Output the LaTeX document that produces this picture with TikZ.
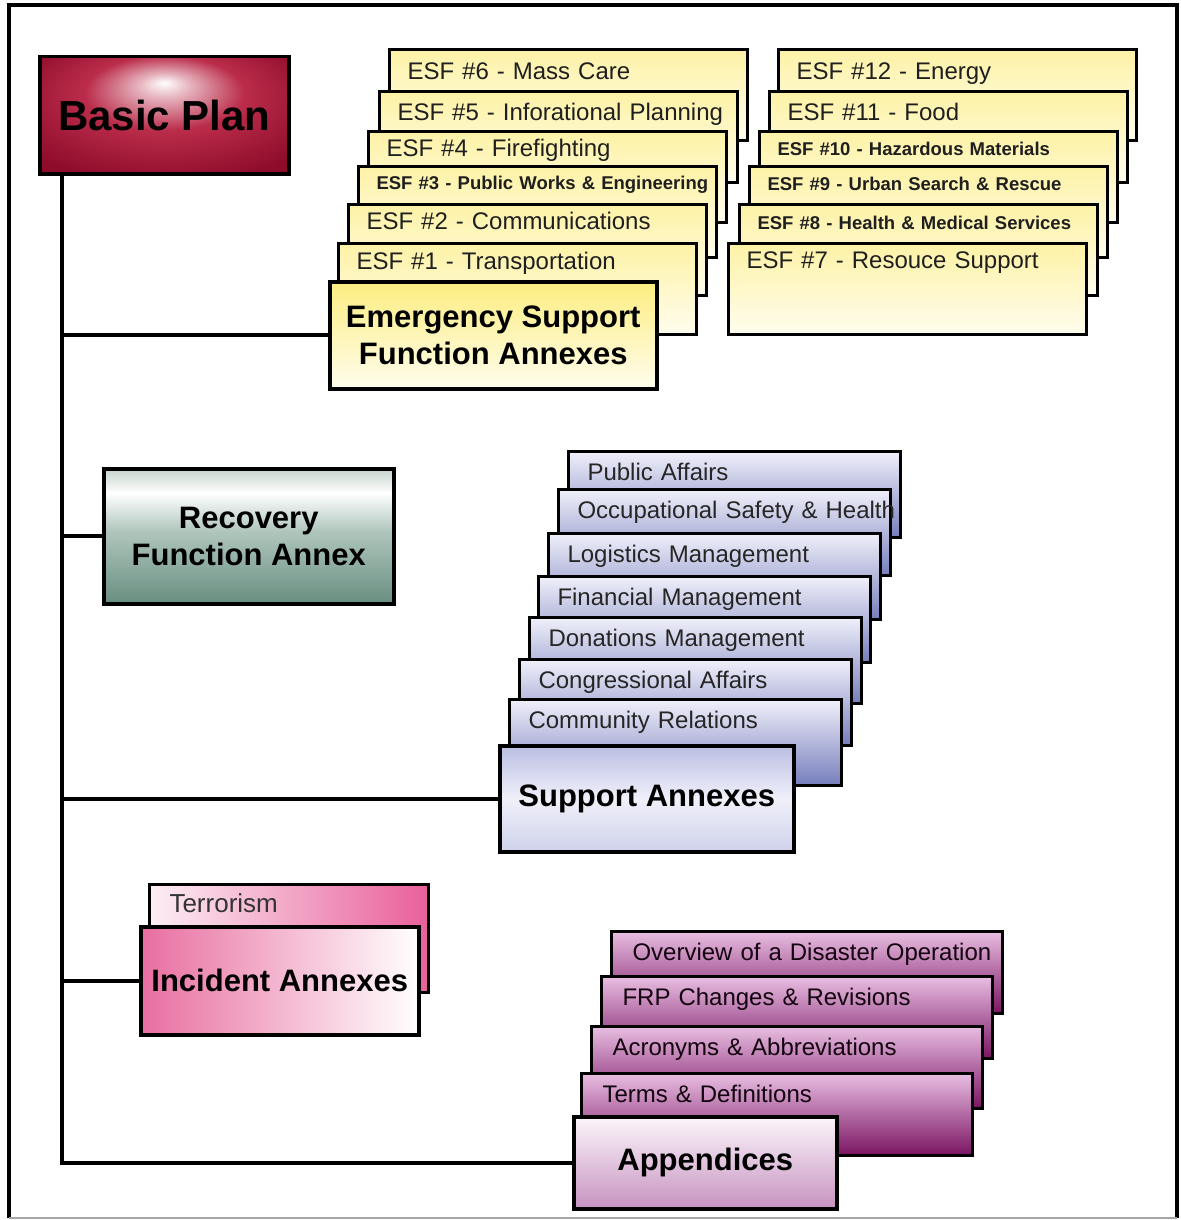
\documentclass[tikz,border=0pt]{standalone}
\usepackage{fontspec}
\setmainfont{Liberation Sans}

\definecolor{basicmid}{RGB}{186,44,74}
\definecolor{basicdark}{RGB}{142,12,42}
\definecolor{esftop}{RGB}{253,242,166}
\definecolor{esfbot}{RGB}{255,253,238}
\definecolor{esffront}{RGB}{252,237,128}
\definecolor{reclight}{RGB}{198,212,204}
\definecolor{recmid}{RGB}{176,198,189}
\definecolor{recdark}{RGB}{104,142,128}
\definecolor{suptop}{RGB}{240,240,250}
\definecolor{supbot}{RGB}{118,126,188}
\definecolor{supfront}{RGB}{186,190,226}
\definecolor{apptop}{RGB}{232,190,226}
\definecolor{appbot}{RGB}{122,20,98}
\definecolor{appfront}{RGB}{198,146,192}
\definecolor{pinklight}{RGB}{252,238,245}
\definecolor{pinkdeep}{RGB}{233,96,154}
\definecolor{incdeep}{RGB}{232,110,160}

\pgfdeclareradialshading{basicglow}{\pgfpoint{0bp}{14bp}}{color(0bp)=(white); color(5bp)=(basicmid!35!white); color(16bp)=(basicmid); color(34bp)=(basicdark); color(50bp)=(basicdark)}
\pgfdeclareverticalshading{recshade}{100bp}{color(0bp)=(recdark); color(25bp)=(recdark); color(52bp)=(recmid); color(66bp)=(white); color(75bp)=(reclight); color(100bp)=(reclight)}

\newcommand\esfreg{\fontsize{24}{28}\selectfont}
\newcommand\esfbold{\fontsize{18.5}{22}\selectfont\bfseries}
\newcommand\cardfont{\fontsize{24}{28}\selectfont}
\newcommand\terrfont{\fontsize{26}{30}\selectfont}
\newcommand\boxfont{\fontsize{31}{37}\selectfont\bfseries}
\newcommand\basicfont{\fontsize{42}{48}\selectfont\bfseries}

\tikzset{
  card/.style={draw, line width=3pt, anchor=north west, inner ysep=0pt, align=left},
  esfcard/.style={card, inner xsep=18pt, text width=322pt, top color=esftop, bottom color=esfbot, text=black!88},
  supcard/.style={card, inner xsep=19pt, text width=294pt, text height=29pt, text depth=57pt,
    top color=suptop, bottom color=supbot, text=black!85, font=\cardfont},
  appcard/.style={card, inner xsep=21pt, text width=349pt, text height=29pt, text depth=53pt,
    top color=apptop, bottom color=appbot, text=black!85!appbot, font=\cardfont},
  mainbox/.style={draw, line width=3.5pt, anchor=north west, align=center, inner sep=0pt, font=\boxfont},
  branch/.style={line width=4pt}
}

\begin{document}
\begin{tikzpicture}[x=1pt, y=-1pt]
\useasboundingbox (0,0) rectangle (1180,1220);

\draw[line width=4pt] (9,1218) |- (1177,5) -- (1177,1218);
\draw[line width=1.5pt, black!35] (9,1218) -- (1177,1218);

\node[mainbox, minimum width=249pt, minimum height=117pt, shade, shading=basicglow, font=\basicfont] (basic) at (38,55) {Basic Plan};

\foreach \n/\x/\y/\b/\f/\t [evaluate=\b as \d using 91-\b] in {
	6/388/48/30/\esfreg/ESF \#6 - Mass Care,
	5/378/90/29/\esfreg/ESF \#5 - Inforational Planning,
	4/367/130/25/\esfreg/ESF \#4 - Firefighting,
	3/357/165/23/\esfbold/ESF \#3 - Public Works \& Engineering,
	2/347/203/25/\esfreg/ESF \#2 - Communications,
	1/337/242/26/\esfreg/ESF \#1 - Transportation,
	12/777/48/30/\esfreg/ESF \#12 - Energy,
	11/768/90/29/\esfreg/ESF \#11 - Food,
	10/758/130/24/\esfbold/ESF \#10 - Hazardous Materials,
	9/748/165/24/\esfbold/ESF \#9 - Urban Search \& Rescue,
	8/738/203/25/\esfbold/ESF \#8 - Health \& Medical Services,
	7/727/242/25/\esfreg/ESF \#7 - Resouce Support}
\node[esfcard, text height=\b pt, text depth=\d pt, font=\f] (esf\n) at (\x,\y) {\mbox{\t}};

\node[mainbox, minimum width=327pt, minimum height=107pt, top color=esffront, bottom color=esfbot] (esfann) at (328,280) {Emergency Support\\Function Annexes};

\node[mainbox, minimum width=290pt, minimum height=135pt, shade, shading=recshade] (recovery) at (102,467) {Recovery\\Function Annex};

\foreach \n/\x/\y/\t in {
	1/567/450/Public Affairs,
	2/557/488/Occupational Safety \& Health,
	3/547/532/Logistics Management,
	4/537/575/Financial Management,
	5/528/616/Donations Management,
	6/518/658/Congressional Affairs,
	7/508/698/Community Relations}
\node[supcard] (sup\n) at (\x,\y) {\mbox{\t}};

\node[mainbox, minimum width=294pt, minimum height=106pt, top color=supfront, bottom color=supfront!70!white, middle color=suptop] (supann) at (498,744) {Support Annexes};

\node[card, inner xsep=20pt, text width=239pt, text height=28pt, text depth=80pt, left color=pinklight, right color=pinkdeep, text=black!80, font=\terrfont] (terror) at (148,883) {Terrorism};
\node[mainbox, minimum width=278pt, minimum height=108pt, left color=incdeep, right color=white] (incident) at (139,925) {Incident Annexes};

\foreach \n/\x/\y/\t in {
	1/610/930/Overview of a Disaster Operation,
	2/600/975/FRP Changes \& Revisions,
	3/590/1025/Acronyms \& Abbreviations,
	4/580/1072/Terms \& Definitions}
\node[appcard] (app\n) at (\x,\y) {\mbox{\t}};

\node[mainbox, minimum width=263pt, minimum height=92pt, top color=white!85!apptop, bottom color=appfront] (appendix) at (572,1115) {Appendices};

\coordinate (trunk) at ([xshift=24pt]basic.south west);
\draw[branch] (trunk) |- (appendix.west);
\foreach \b in {esfann, recovery, supann, incident}
\draw[branch] (\b.west) -- (\b.west -| trunk);

\end{tikzpicture}
\end{document}
